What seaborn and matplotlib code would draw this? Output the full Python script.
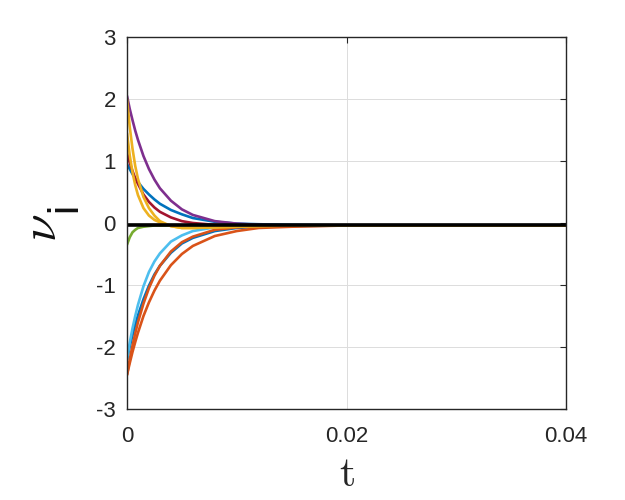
import pandas as pd
import numpy as np
import matplotlib
matplotlib.use("Agg")
import matplotlib.pyplot as plt
import seaborn as sns

# ---------------------------------------------
# data (t in seconds)
# ---------------------------------------------

t = [0, 0.00025, 0.0005, 0.00075, 0.001, 0.0015, 0.002, 0.0025, 0.003,
     0.004, 0.005, 0.006, 0.008, 0.010, 0.012, 0.015, 0.020, 0.040]

purple  = [2.05, 1.84, 1.66, 1.49, 1.34, 1.08, 0.87, 0.70, 0.56, 0.36, 0.22, 0.13, 0.03, -0.01, -0.03, -0.04, -0.04, -0.04]
blue_up = [0.95, 0.87, 0.79, 0.72, 0.66, 0.55, 0.46, 0.38, 0.31, 0.21, 0.14, 0.08, 0.02, -0.01, -0.02, -0.03, -0.04, -0.04]
red     = [1.12, 0.97, 0.84, 0.72, 0.63, 0.46, 0.34, 0.25, 0.18, 0.09, 0.03, 0.00, -0.03, -0.04, -0.04, -0.04, -0.04, -0.04]
yellow1 = [2.00, 1.55, 1.20, 0.92, 0.71, 0.42, 0.24, 0.12, 0.03, -0.05, -0.08, -0.08, -0.07, -0.06, -0.05, -0.04, -0.04, -0.04]
yellow2 = [1.45, 1.09, 0.82, 0.61, 0.45, 0.24, 0.12, 0.05, 0.01, -0.05, -0.08, -0.08, -0.07, -0.06, -0.05, -0.04, -0.04, -0.04]
green   = [-0.35, -0.23, -0.15, -0.11, -0.08, -0.06, -0.05, -0.04, -0.04, -0.04, -0.04, -0.04, -0.04, -0.04, -0.04, -0.04, -0.04, -0.04]
cyan    = [-2.20, -1.93, -1.70, -1.50, -1.32, -1.02, -0.79, -0.62, -0.49, -0.30, -0.20, -0.13, -0.07, -0.05, -0.04, -0.04, -0.04, -0.04]
blue_lo = [-2.20, -1.99, -1.81, -1.64, -1.49, -1.23, -1.01, -0.83, -0.69, -0.48, -0.33, -0.24, -0.13, -0.08, -0.06, -0.05, -0.04, -0.04]
orange1 = [-2.45, -2.20, -1.98, -1.78, -1.60, -1.30, -1.05, -0.85, -0.69, -0.46, -0.31, -0.22, -0.11, -0.07, -0.05, -0.04, -0.04, -0.04]
orange2 = [-2.45, -2.26, -2.08, -1.92, -1.77, -1.50, -1.28, -1.09, -0.93, -0.68, -0.50, -0.37, -0.21, -0.13, -0.08, -0.06, -0.04, -0.04]

ref_t = [0, 0.04]
ref_v = [-0.04, -0.04]

curves = {
    "blue_lo": (blue_lo, "#0072BD"),
    "cyan": (cyan, "#4DBEEE"),
    "orange2": (orange2, "#D95319"),
    "orange1": (orange1, "#D95319"),
    "green": (green, "#77AC30"),
    "blue_up": (blue_up, "#0072BD"),
    "red": (red, "#A2142F"),
    "purple": (purple, "#7E2F8E"),
    "yellow2": (yellow2, "#EDB120"),
    "yellow1": (yellow1, "#EDB120"),
}

rows = []
for name, (vals, col) in curves.items():
    for ti, vi in zip(t, vals):
        rows.append({"t": ti, "v": vi, "curve": name})
df = pd.DataFrame(rows)
palette = {name: col for name, (vals, col) in curves.items()}

# ---------------------------------------------
# plot
# ---------------------------------------------

sns.set_theme(style="white")
plt.rcParams["font.family"] = ["Liberation Sans", "DejaVu Sans"]
plt.rcParams["mathtext.fontset"] = "cm"
plt.rcParams["axes.unicode_minus"] = False

fig = plt.figure(figsize=(6.25, 5), dpi=100)
ax = fig.add_axes([0.2032, 0.182, 0.7024, 0.744])

ax.grid(True, color="#dcdcdc", linewidth=0.7)
ax.set_axisbelow(True)

sns.lineplot(
    data=df,
    x="t",
    y="v",
    hue="curve",
    palette=palette,
    estimator=None,
    sort=False,
    linewidth=1.9,
    legend=False,
    ax=ax
)

sns.lineplot(x=ref_t, y=ref_v, color="black", linewidth=2.6, ax=ax)

ax.set_xlim(0, 0.04)
ax.set_ylim(-3, 3)
ax.set_xticks([0, 0.02, 0.04])
ax.set_xticklabels(["0", "0.02", "0.04"])
ax.set_yticks([-3, -2, -1, 0, 1, 2, 3])
ax.set_yticklabels(["-3", "-2", "-1", "0", "1", "2", "3"])

ax.tick_params(axis="both", direction="in", length=4, width=0.8,
               colors="#262626", labelsize=16)
ax.tick_params(axis="x", pad=12, top=True)
ax.tick_params(axis="y", pad=8, right=True)

for sp in ax.spines.values():
    sp.set_color("#262626")
    sp.set_linewidth(1.0)

ax.set_xlabel(r"$\mathrm{t}$", fontsize=30, labelpad=6)
ax.set_ylabel("")

# y label: nu with a large sans subscript i
fig.text(0.068, 0.544, r"$\nu$", fontsize=36, rotation=90,
         ha="center", va="center", color="#111111")
fig.text(0.104, 0.586, "i", fontsize=30, rotation=90,
         ha="center", va="center", color="#111111")

fig.savefig("out.png", dpi=100)
